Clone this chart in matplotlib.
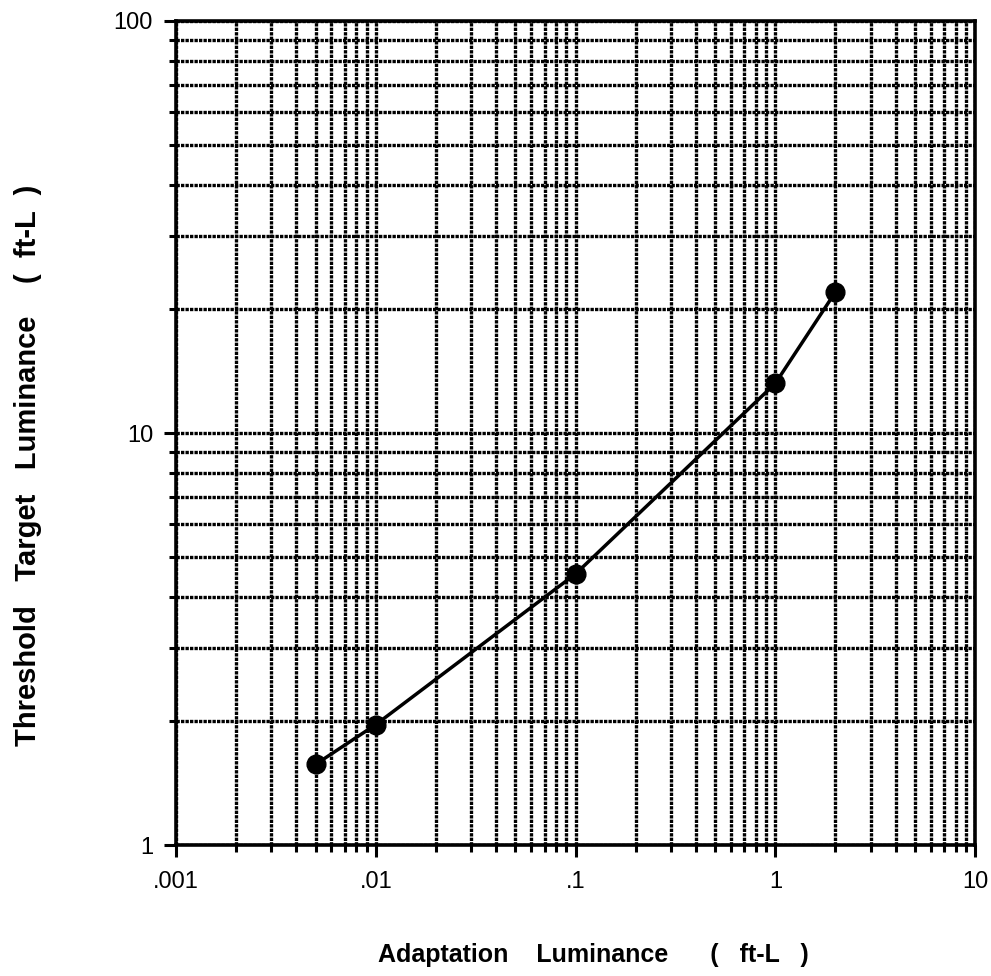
import numpy as np
import matplotlib.pyplot as plt
from matplotlib.ticker import FixedLocator, FixedFormatter, NullFormatter

plt.rcParams['font.family'] = ['Liberation Sans', 'DejaVu Sans']

adapt = [0.005, 0.01, 0.1, 1.0, 2.0]
threshold = [1.57, 1.96, 4.55, 13.2, 22.0]

xticks = [0.001, 0.01, 0.1, 1, 10]
xlabels = ['.001', '.01', '.1', '1', '10']
yticks = [1, 10, 100]
ylabels = ['1', '10', '100']

fig = plt.figure(figsize=(9.91, 9.76), dpi=100)
ax = fig.add_axes([0.1776, 0.1342, 0.8064, 0.8443])
ax.set_xscale('log')
ax.set_yscale('log')
ax.set_xlim(0.001, 10)
ax.set_ylim(1, 100)

ax.xaxis.set_major_locator(FixedLocator(xticks))
ax.xaxis.set_major_formatter(FixedFormatter(xlabels))
ax.yaxis.set_major_locator(FixedLocator(yticks))
ax.yaxis.set_major_formatter(FixedFormatter(ylabels))
xminor = [m * 10.0 ** e for e in range(-3, 1) for m in range(2, 10)]
yminor = [m * 10.0 ** e for e in range(0, 2) for m in range(2, 10)]
ax.xaxis.set_minor_locator(FixedLocator(xminor))
ax.yaxis.set_minor_locator(FixedLocator(yminor))
ax.xaxis.set_minor_formatter(NullFormatter())
ax.yaxis.set_minor_formatter(NullFormatter())

# dense dotted grid, like the old plotter paper
ax.grid(True, which='both', color='black', linestyle=(0, (1, 0.35)), linewidth=2.4)
ax.set_axisbelow(True)

for s in ax.spines.values():
    s.set_linewidth(2.6)

ax.tick_params(which='major', direction='out', length=8.5, width=2.2, labelsize=17)
ax.tick_params(which='minor', direction='out', length=5, width=2.2)
ax.tick_params(axis='x', which='major', pad=10.5)
ax.tick_params(axis='y', which='major', pad=8)

ax.plot(adapt, threshold, color='black', linewidth=2.5, marker='o',
        markersize=13.5, zorder=5, clip_on=False)

ax.set_xlabel('Adaptation    Luminance      (   ft-L   )', fontsize=18, fontweight='bold')
ax.set_ylabel('Threshold   Target   Luminance    (  ft-L  )', fontsize=21, fontweight='bold')
ax.xaxis.set_label_coords(0.522, -0.1335)
ax.xaxis.label.set_va('center')
ax.yaxis.set_label_coords(-0.185, 0.461)
ax.yaxis.label.set_va('center')

fig.savefig('out.png', dpi=100)
